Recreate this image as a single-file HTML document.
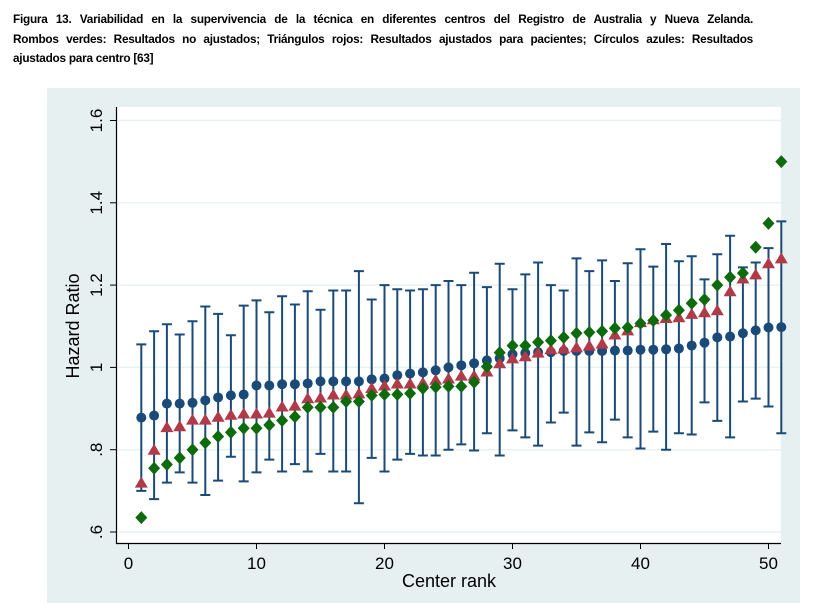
<!DOCTYPE html>
<html><head><meta charset="utf-8"><style>
body{margin:0;width:831px;height:616px;background:#fff;overflow:hidden;font-family:"Liberation Sans",sans-serif}
.cap{position:absolute;left:13px;width:740px;font-weight:bold;font-size:11.8px;letter-spacing:-0.25px;color:#000;white-space:nowrap}
.j{text-align:justify;text-align-last:justify;white-space:normal}
</style></head><body>
<div class="cap j" style="top:12px">Figura 13. Variabilidad en la supervivencia de la técnica en diferentes centros del Registro de Australia y Nueva Zelanda.</div>
<div class="cap j" style="top:32px">Rombos verdes: Resultados no ajustados; Triángulos rojos: Resultados ajustados para pacientes; Círculos azules: Resultados</div>
<div class="cap" style="top:51px">ajustados para centro [63]</div>
<svg id="chart" style="position:absolute;left:0;top:0" width="831" height="616">
<rect x="47" y="88" width="753" height="515" fill="#e6f0f1"/>
<rect x="116" y="107" width="665" height="436" fill="#fff"/>
<g id="g"></g>
</svg>
<script>
const centers=[1,2,3,4,5,6,7,8,9,10,11,12,13,14,15,16,17,18,19,20,21,22,23,24,25,26,27,28,29,30,31,32,33,34,35,36,37,38,39,40,41,42,43,44,45,46,47,48,49,50,51];
const blueCenter=[0.878,0.883,0.912,0.912,0.914,0.92,0.927,0.932,0.934,0.956,0.956,0.959,0.959,0.961,0.966,0.966,0.966,0.966,0.971,0.973,0.981,0.985,0.988,0.993,1.0,1.005,1.01,1.017,1.022,1.032,1.035,1.037,1.037,1.04,1.04,1.04,1.04,1.041,1.041,1.043,1.043,1.044,1.046,1.053,1.06,1.073,1.075,1.083,1.09,1.097,1.098];
const blueUpper=[1.056,1.088,1.105,1.08,1.112,1.148,1.13,1.078,1.15,1.163,1.134,1.173,1.153,1.185,1.14,1.187,1.187,1.234,1.165,1.2,1.19,1.187,1.19,1.2,1.21,1.2,1.23,1.195,1.252,1.19,1.226,1.255,1.2,1.187,1.265,1.234,1.26,1.21,1.253,1.287,1.245,1.3,1.258,1.27,1.214,1.275,1.32,1.243,1.255,1.29,1.355];
const blueLower=[0.70,0.68,0.72,0.745,0.72,0.69,0.725,0.783,0.723,0.745,0.776,0.747,0.765,0.747,0.79,0.747,0.747,0.67,0.78,0.747,0.776,0.79,0.786,0.786,0.8,0.813,0.798,0.84,0.786,0.847,0.83,0.81,0.866,0.89,0.81,0.842,0.818,0.873,0.83,0.803,0.844,0.8,0.84,0.837,0.915,0.87,0.83,0.917,0.924,0.905,0.84];
const redPatient=[0.72,0.8,0.855,0.857,0.873,0.873,0.88,0.885,0.888,0.888,0.89,0.905,0.907,0.925,0.927,0.934,0.934,0.937,0.95,0.956,0.961,0.961,0.963,0.97,0.973,0.98,0.98,0.99,1.01,1.022,1.027,1.036,1.044,1.046,1.049,1.053,1.058,1.08,1.09,1.11,1.117,1.12,1.122,1.13,1.134,1.139,1.185,1.216,1.226,1.253,1.265];
const greenUnadj=[0.635,0.755,0.764,0.78,0.8,0.817,0.832,0.842,0.852,0.852,0.86,0.871,0.88,0.903,0.903,0.903,0.917,0.917,0.932,0.934,0.934,0.937,0.949,0.952,0.954,0.954,0.964,1.002,1.036,1.053,1.053,1.061,1.065,1.073,1.083,1.085,1.088,1.095,1.097,1.107,1.114,1.127,1.139,1.156,1.165,1.2,1.219,1.229,1.292,1.35,1.5];
const xTicks=[0,10,20,30,40,50];
const yTicks=[0.6,0.8,1.0,1.2,1.4,1.6];
const yTickLabels=[".6",".8","1","1.2","1.4","1.6"];

const NS="http://www.w3.org/2000/svg";
const g=document.getElementById('g');
const X=v=>128.5+(v-0)*12.8;
const Y=v=>532-(v-0.6)*411.5;
function mk(t,a){const e=document.createElementNS(NS,t);for(const k in a)e.setAttribute(k,a[k]);g.appendChild(e);return e;}
yTicks.forEach((v,i)=>{
  const gl=mk('line',{x1:117,x2:781,y1:Y(v),y2:Y(v),stroke:'#e9f1f2','stroke-width':1.5});
  
  
  const tk=mk('line',{x1:110,x2:116,y1:Y(v),y2:Y(v),stroke:'#000','stroke-width':1});
  
  
  const tx=mk('text',{x:0,y:0,transform:`translate(102,${Y(v)}) rotate(-90)`,'text-anchor':'middle','font-size':17,fill:'#000'});
  tx.textContent=yTickLabels[i];
  
  
});
xTicks.forEach(v=>{
  const tk=mk('line',{x1:X(v),x2:X(v),y1:543,y2:549,stroke:'#000','stroke-width':1});
  
  
  const tx=mk('text',{x:X(v),y:569,'text-anchor':'middle','font-size':17,fill:'#000'});
  tx.textContent=String(v);
  
  
});
const ax=mk('path',{d:'M116.5 107 V543.5 H781',fill:'none',stroke:'#000','stroke-width':1.2});


const xt=mk('text',{x:449,y:587,'text-anchor':'middle','font-size':18,fill:'#000'});
xt.textContent='Center rank';


const yt=mk('text',{x:0,y:0,transform:'translate(79,326) rotate(-90)','text-anchor':'middle','font-size':18,fill:'#000'});
yt.textContent='Hazard Ratio';


const C='#1a4a78';
centers.forEach((c,i)=>{
  const x=X(c);
  const eb=mk('path',{d:`M${x} ${Y(blueUpper[i])} V${Y(blueLower[i])} M${x-5} ${Y(blueUpper[i])} H${x+5} M${x-5} ${Y(blueLower[i])} H${x+5}`,stroke:C,'stroke-width':2,fill:'none'});
  
  
});
centers.forEach((c,i)=>{
  const x=X(c);
  const b=mk('circle',{cx:x,cy:Y(blueCenter[i]),r:5,fill:C});
  
  
  const y=Y(redPatient[i]);
  const r=mk('polygon',{points:`${x},${y-6} ${x-6.5},${y+5} ${x+6.5},${y+5}`,fill:'#b03a48'});
  
  
  const yg=Y(greenUnadj[i]);
  const d=mk('polygon',{points:`${x},${yg-6.5} ${x+6},${yg} ${x},${yg+6.5} ${x-6},${yg}`,fill:'#0d6a0d'});
  
  
});
</script>
</body></html>
